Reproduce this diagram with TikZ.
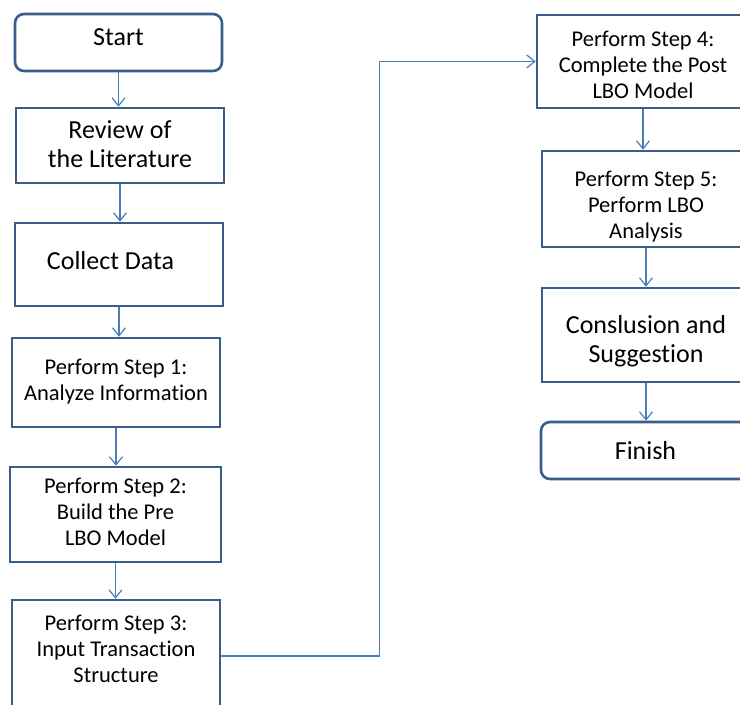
\documentclass[tikz,border=0pt]{standalone}
\usepackage{fontspec}
\setmainfont{Carlito}[Ligatures={NoCommon,NoContextual}]
\usetikzlibrary{arrows.meta}
\definecolor{boxline}{RGB}{58,94,140}
\definecolor{flowline}{RGB}{74,126,187}

\begin{document}
\begin{tikzpicture}[x=1pt, y=-1pt,
  stepbox/.style={draw=boxline, line width=2.6pt, align=center, inner sep=2pt, text depth=0pt,
    font=\fontsize{22.5}{26}\selectfont},
  bigbox/.style={stepbox, font=\fontsize{26}{29}\selectfont},
  endbox/.style={bigbox, rounded corners=9pt},
  flow/.style={draw=flowline, line width=1.2pt, -{Straight Barb[length=8pt,width=13pt]}}]
\useasboundingbox (0,0) rectangle (740,705);
\clip (0,0) rectangle (740,705);

% left column (text height puts the last baseline where it belongs)
\node[endbox, minimum width=207, minimum height=57, text height=5pt] (start) at (118.5,42.5) {Start};
\node[bigbox, minimum width=208, minimum height=75, text height=43pt] (review) at (120,145.5) {Review of\\the Literature};
\node[bigbox, minimum width=208, minimum height=83, text height=9pt] (collect) at (119,264.5) {Collect Data\hspace*{17pt}};
\node[stepbox, minimum width=208, minimum height=89, text height=35pt] (s1) at (116,382.5) {Perform Step 1:\\Analyze Information};
\node[stepbox, minimum width=211, minimum height=95, text height=61pt] (s2) at (115.5,514.5) {Perform Step 2:\\Build the Pre\\LBO Model};
\node[stepbox, minimum width=208, minimum height=112, text height=52pt] (s3) at (116,656) {Perform Step 3:\\Input Transaction\\Structure};

% right column
\node[stepbox, minimum width=212, minimum height=93, text height=73pt] (s4) at (643,61.5) {Perform Step 4:\\Complete the Post\\LBO Model};
\node[stepbox, minimum width=208, minimum height=96, text height=78pt] (s5) at (646,199) {Perform Step 5:\\Perform LBO\\Analysis};
\node[bigbox, minimum width=208, minimum height=94, text height=54pt] (concl) at (646,335) {Conslusion and\\Suggestion};
\node[endbox, minimum width=209, minimum height=57, text height=17pt] (finish) at (645.5,450.5) {Finish};

% arrows
\foreach \a/\b in {start/review, review/collect, collect/s1, s1/s2, s2/s3, s4/s5, s5/concl, concl/finish}
  \draw[flow] (\a.south) -- (\a.south |- \b.north);
\draw[flow] (s3.east) -- ++(158,0) |- (s4.west);
\end{tikzpicture}
\end{document}
